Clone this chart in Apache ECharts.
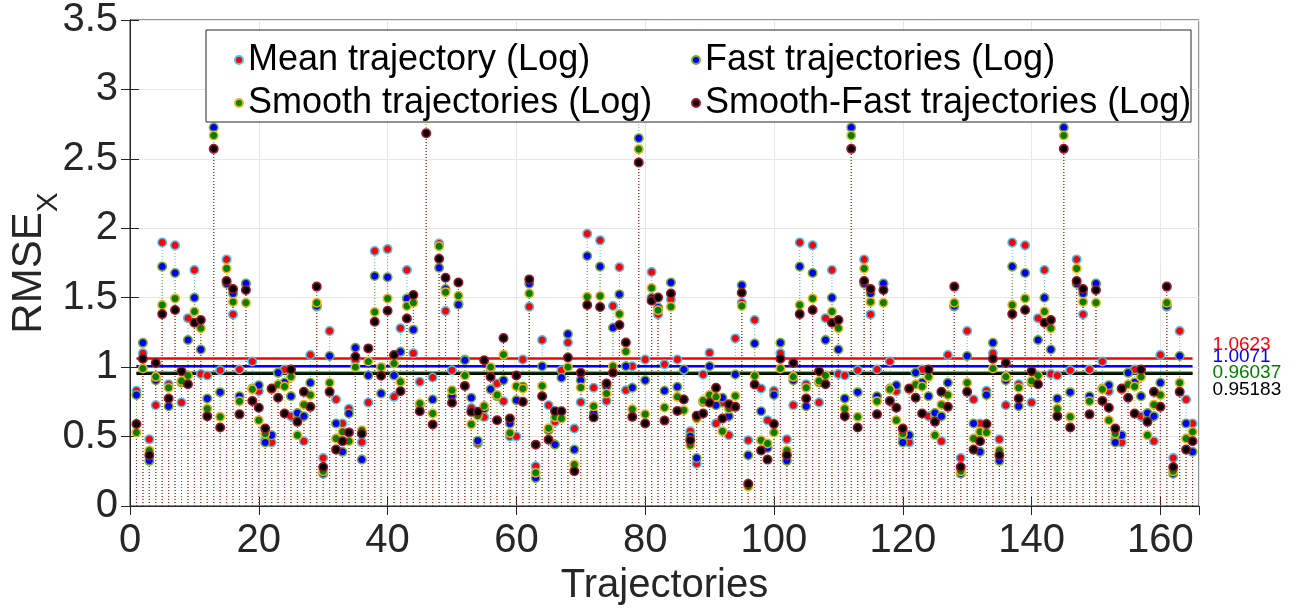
<!DOCTYPE html>
<html><head><meta charset="utf-8">
<script src="https://cdn.jsdelivr.net/npm/echarts@6/dist/echarts.min.js"></script>
<style>html,body{margin:0;padding:0;background:#fff}#c{width:1296px;height:610px}</style>
</head><body><div id="c"></div>
<script>
const seriesNames = ['Mean trajectory (Log)', 'Fast trajectories (Log)', 'Smooth trajectories (Log)', 'Smooth-Fast trajectories (Log)'];
const meanVals = [
0.83,1.10,0.48,0.726,1.897,0.877,1.877,0.745,1.353,1.70,0.95,0.94,2.90,0.978,1.776,1.38,0.983,1.60,1.04,0.827,0.48,0.457,0.96,0.983,0.647,0.65,0.466,1.087,1.435,0.346,1.26,0.767,0.594,
0.70,1.05,0.46,0.745,1.837,1.0,1.85,0.786,1.28,1.70,1.10,0.894,2.95,0.925,1.89,1.404,0.978,1.454,1.055,0.706,0.45,0.64,0.99,0.882,0.755,0.50,0.50,1.055,1.435,0.286,1.195,0.726,0.606,
0.978,1.178,0.558,0.748,1.96,0.851,1.913,0.757,1.44,1.719,0.834,1.007,2.85,1.055,1.685,1.38,1.02,1.488,1.055,0.98,0.538,0.305,0.947,1.103,0.594,0.743,0.51,1.207,1.464,0.474,1.339,0.846,0.618,
0.83,1.10,0.48,0.726,1.897,0.877,1.877,0.745,1.353,1.70,0.95,0.94,2.90,0.978,1.776,1.38,0.983,1.60,1.04,0.827,0.48,0.457,0.96,0.983,0.647,0.65,0.466,1.087,1.435,0.346,1.26,0.767,0.594,
0.83,1.10,0.48,0.726,1.897,0.877,1.877,0.745,1.353,1.70,0.95,0.94,2.90,0.978,1.776,1.38,0.983,1.60,1.04,0.827,0.48,0.457,0.96,0.983,0.647,0.65,0.466,1.087,1.435,0.346,1.26,0.767,0.594];
const fastVals = [
0.80,1.175,0.325,0.906,1.724,0.719,1.678,0.889,1.195,1.50,1.127,0.774,2.726,0.82,1.60,1.53,0.79,1.603,0.846,0.87,0.457,0.51,0.96,0.89,0.79,0.67,0.647,0.887,1.44,0.233,1.08,0.594,0.39,
0.666,1.14,0.334,0.94,1.656,0.81,1.647,0.94,1.11,1.495,1.27,0.73,2.85,0.767,1.716,1.5625,0.79,1.45,1.05,0.78,0.47,0.70,0.84,0.79,0.906,0.594,0.762,0.86,1.60,0.202,1.007,0.546,0.442,
0.923,1.238,0.406,0.906,1.80,0.666,1.724,0.86,1.284,1.524,1.007,0.851,2.649,0.906,1.50,1.43,0.83,1.61,0.858,0.983,0.502,0.346,0.75,1.007,0.726,0.78,0.647,0.947,1.59,0.365,1.17,0.683,0.418,
0.80,1.175,0.325,0.906,1.724,0.719,1.678,0.889,1.195,1.50,1.127,0.774,2.726,0.82,1.60,1.53,0.79,1.603,0.846,0.87,0.457,0.51,0.96,0.89,0.79,0.67,0.647,0.887,1.44,0.233,1.08,0.594,0.39,
0.80,1.175,0.325,0.906,1.724,0.719,1.678,0.889,1.195,1.50,1.127,0.774,2.726,0.82,1.60,1.53,0.79,1.603,0.846,0.87,0.457,0.51,0.96,0.89,0.79,0.67,0.647,0.887,1.44,0.233,1.08,0.594,0.39];
const smoothVals = [
0.53,0.99,0.40,0.93,1.447,0.851,1.495,0.90,0.94,1.40,1.28,0.70,2.668,0.642,1.71,1.47,0.755,1.464,0.84,0.618,0.52,0.84,0.875,0.86,0.93,0.51,0.73,0.80,1.464,0.25,0.887,0.486,0.534,
0.466,1.0,0.546,1.04,1.397,1.0,1.495,1.026,0.894,1.44,1.464,0.738,2.80,0.666,1.87,1.54,0.834,1.514,0.94,0.589,0.65,0.72,1.0,0.80,1.09,0.526,0.863,0.846,1.53,0.24,0.865,0.56,0.64,
0.63,1.0,0.298,0.853,1.507,0.719,1.512,0.81,1.007,1.382,1.113,0.697,2.57,0.661,1.57,1.41,0.71,1.435,0.786,0.69,0.4375,0.63,0.76,0.80,0.786,0.538,0.70,0.793,1.44,0.14,0.9375,0.474,0.45,
0.53,0.99,0.40,0.93,1.447,0.851,1.495,0.90,0.94,1.40,1.28,0.70,2.668,0.642,1.71,1.47,0.755,1.464,0.84,0.618,0.52,0.84,0.875,0.86,0.93,0.51,0.73,0.80,1.464,0.25,0.887,0.486,0.534,
0.53,0.99,0.40,0.93,1.447,0.851,1.495,0.90,0.94,1.40,1.28,0.70,2.668,0.642,1.71,1.47,0.755,1.464,0.84,0.618,0.52,0.84,0.875,0.86,0.93,0.51,0.73,0.80,1.464,0.25,0.887,0.486,0.534];
const smoothFastVals = [
0.59,1.06,0.365,1.03,1.382,0.774,1.411,0.971,0.877,1.32,1.34,0.647,2.572,0.565,1.62,1.5625,0.66,1.555,0.757,0.707,0.558,0.846,0.78,0.666,0.983,0.606,0.822,0.714,1.58,0.28,0.822,0.406,0.466,
0.53,1.075,0.52,1.135,1.327,0.9375,1.406,1.087,0.827,1.35,1.52,0.683,2.685,0.587,1.78,1.644,0.743,1.61,0.865,0.678,0.678,1.05,0.93,0.618,1.21,0.63,0.94,0.75,1.632,0.442,0.79,0.478,0.683,
0.683,1.07,0.25,0.96,1.447,0.637,1.433,0.882,0.959,1.303,1.178,0.642,2.474,0.594,1.478,1.502,0.615,1.53,0.685,0.767,0.474,0.65,0.666,0.743,0.851,0.63,0.733,0.714,1.536,0.16,0.875,0.40,0.334,
0.59,1.06,0.365,1.03,1.382,0.774,1.411,0.971,0.877,1.32,1.34,0.647,2.572,0.565,1.62,1.5625,0.66,1.555,0.757,0.707,0.558,0.846,0.78,0.666,0.983,0.606,0.822,0.714,1.58,0.28,0.822,0.406,0.466,
0.59,1.06,0.365,1.03,1.382,0.774,1.411,0.971,0.877,1.32,1.34,0.647,2.572,0.565,1.62,1.5625,0.66,1.555,0.757,0.707,0.558,0.846,0.78,0.666,0.983,0.606,0.822,0.714,1.58,0.28,0.822,0.406,0.466];
const averages = [1.0623, 1.0071, 0.96037, 0.95183];
const averageLabels = ['1.0623', '1.0071', '0.96037', '0.95183'];

const allVals = [meanVals, fastVals, smoothVals, smoothFastVals];
const fillColors = ['#ff0000', '#0000ff', '#008000', '#000000'];
const edgeColors = ['#4DBEEE', '#77AC30', '#EDB120', '#A2142F'];
const avgColors = ['#ff0000', '#0000ff', '#008000', '#000000'];
const labelOffsets = [[12, -14], [12, -9], [12, 0], [12, 16]];
const FONT = 'Liberation Sans, Arial, Helvetica, sans-serif';

const chart = echarts.init(document.getElementById('c'), null, {renderer: 'canvas'});
const series = [];
allVals.forEach((vals, i) => {
  const data = vals.map((v, k) => [k + 1, v]);
  series.push({
    name: 'stem' + i, type: 'custom', z: 1, silent: true,
    data: data, encode: {x: 0, y: 1},
    renderItem: (params, api) => {
      const p0 = api.coord([api.value(0), 0]);
      const p1 = api.coord([api.value(0), api.value(1)]);
      return {type: 'line', shape: {x1: p0[0], y1: p0[1], x2: p1[0], y2: p1[1]},
        style: {stroke: edgeColors[i], lineWidth: 1, lineDash: [1, 2]}};
    }
  });
});
allVals.forEach((vals, i) => {
  const data = vals.map((v, k) => [k + 1, v]);
  series.push({
    name: seriesNames[i], type: 'scatter', z: 3, data: data,
    symbol: 'circle', symbolSize: 8.5,
    itemStyle: {color: fillColors[i], borderColor: edgeColors[i], borderWidth: 1.5, opacity: 1}
  });
});
averages.forEach((a, i) => {
  const n = allVals[i].length;
  series.push({
    name: 'avg' + i, type: 'line', z: 2, silent: true,
    data: [[1, a], [n, a]], symbol: 'none',
    lineStyle: {color: avgColors[i], width: 2.5},
    endLabel: {show: true, formatter: () => averageLabels[i], color: avgColors[i],
      fontSize: 19, fontFamily: FONT, offset: labelOffsets[i]}
  });
});

const axisCommon = {
  axisLine: {show: true, lineStyle: {color: '#262626', width: 1}},
  axisTick: {show: true, inside: true, length: 9, lineStyle: {color: '#262626'}},
};
const option = {
  animation: false,
  backgroundColor: '#ffffff',
  grid: {left: 130, right: 97, top: 20, bottom: 104, show: true, borderColor: '#262626', borderWidth: 1,
    containLabel: false, outerBoundsMode: 'none'},
  xAxis: [
    Object.assign({type: 'value', min: 0, max: 166, interval: 20, position: 'bottom',
      axisLabel: {fontSize: 40, color: '#262626', margin: 15, fontFamily: FONT, showMaxLabel: false},
      splitLine: {show: true, lineStyle: {color: '#e6e6e6', width: 1}},
      name: 'Trajectories', nameLocation: 'middle', nameGap: 60, nameMoveOverlap: false,
      nameTextStyle: {fontSize: 40, color: '#262626', fontFamily: FONT}}, axisCommon),
    Object.assign({type: 'value', min: 0, max: 166, interval: 20, position: 'top',
      axisLabel: {show: false}, splitLine: {show: false}}, axisCommon)
  ],
  yAxis: [
    Object.assign({type: 'value', min: 0, max: 3.5, interval: 0.5, position: 'left',
      axisLabel: {fontSize: 40, color: '#262626', margin: 12, fontFamily: FONT},
      splitLine: {show: true, lineStyle: {color: '#e6e6e6', width: 1}},
      name: '{a|RMSE}{b|X}', nameLocation: 'middle', nameGap: 66, nameRotate: 90, nameMoveOverlap: false,
      nameTextStyle: {color: '#262626', fontFamily: FONT,
        rich: {a: {fontSize: 42, lineHeight: 42, verticalAlign: 'top', color: '#262626', fontFamily: FONT},
               b: {fontSize: 30, lineHeight: 56, verticalAlign: 'bottom', color: '#262626', fontFamily: FONT}}}}, axisCommon),
    Object.assign({type: 'value', min: 0, max: 3.5, interval: 0.5, position: 'right',
      axisLabel: {show: false}, splitLine: {show: false}}, axisCommon)
  ],
  legend: [
    {data: [seriesNames[0], seriesNames[2]], orient: 'vertical', left: 229, top: 35, itemGap: 3,
     icon: 'circle', itemWidth: 8, itemHeight: 8, z: 10,
     textStyle: {fontSize: 36, color: '#000', fontFamily: FONT, lineHeight: 40}},
    {data: [seriesNames[1], seriesNames[3]], orient: 'vertical', left: 686, top: 35, itemGap: 3,
     icon: 'circle', itemWidth: 8, itemHeight: 8, z: 10,
     textStyle: {fontSize: 36, color: '#000', fontFamily: FONT, lineHeight: 40}}
  ],
  graphic: [{type: 'rect', z: 5, shape: {x: 206, y: 30, width: 985, height: 92},
    style: {fill: '#ffffff', stroke: '#262626', lineWidth: 1}}],
  series: series
};
chart.setOption(option);
</script></body></html>
